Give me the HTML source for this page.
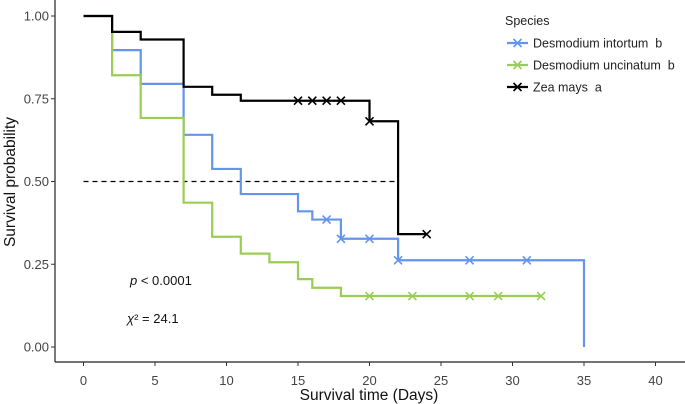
<!DOCTYPE html>
<html><head><meta charset="utf-8"><style>
body{margin:0;background:#fff}
svg{display:block;font-family:"Liberation Sans",Arial,sans-serif}
text{white-space:pre}
</style></head><body>
<svg id="chart" width="685" height="404">
<g id="axes"></g><g id="marks"></g>
<g>
<text x="505" y="25" font-size="12.5" fill="#222">Species</text>
<g id="legend-entries"></g>
</g>
<text x="130" y="285" font-size="13" fill="#111"><tspan font-style="italic">p</tspan> &lt; 0.0001</text>
<text x="127" y="323" font-size="13" fill="#111"><tspan font-style="italic">χ</tspan>² = 24.1</text>
<text x="369" y="400" font-size="15.5" text-anchor="middle" fill="#111">Survival time (Days)</text>
<text transform="translate(15,182) rotate(-90)" font-size="15.5" text-anchor="middle" fill="#111">Survival probability</text>
</svg>
<script>
const xTicks=[0,5,10,15,20,25,30,35,40];
const yTicks=[0,0.25,0.5,0.75,1];
const yTickLabels=["0.00","0.25","0.50","0.75","1.00"];
const seriesNames=["Desmodium intortum  b","Desmodium uncinatum  b","Zea mays  a"];
const seriesColors=["#6495ed","#9acd53","#000000"];
const intortumTimes=[0,2,4,7,9,11,15,16,18,22,35];
const intortumSurv=[1,0.897,0.795,0.641,0.538,0.462,0.41,0.385,0.327,0.262,0];
const intortumCensor=[17,18,20,22,27,31];
const uncinatumTimes=[0,2,4,7,9,11,13,15,16,18,32];
const uncinatumSurv=[1,0.821,0.692,0.436,0.333,0.282,0.256,0.205,0.179,0.154,0.154];
const uncinatumCensor=[20,23,27,29,32];
const zeaTimes=[0,2,4,7,9,11,20,22,24];
const zeaSurv=[1,0.952,0.929,0.786,0.762,0.744,0.682,0.341,0.341];
const zeaCensor=[15,16,17,18,20,24];
const medianLine=[0,22];

const NS="http://www.w3.org/2000/svg";
const X=t=>83.5+t*14.3;
const Y=s=>347-s*331;
function mk(tag,attrs,parent){const e=document.createElementNS(NS,tag);for(const k in attrs)e.setAttribute(k,attrs[k]);parent.appendChild(e);return e;}
const axes=document.getElementById('axes'),marks=document.getElementById('marks');
let a=mk('line',{x1:55,y1:0,x2:55,y2:362,stroke:'#222','stroke-width':1.2},axes);


a=mk('line',{x1:55,y1:362,x2:685,y2:362,stroke:'#222','stroke-width':1.2},axes);


xTicks.forEach(t=>{
 mk('line',{x1:X(t),y1:362,x2:X(t),y2:366,stroke:'#333'},axes);
 const tx=mk('text',{x:X(t),y:385,'font-size':13,'text-anchor':'middle',fill:'#444'},axes);
 tx.textContent=t;
 
 
});
yTicks.forEach((v,i)=>{
 mk('line',{x1:51,y1:Y(v),x2:55,y2:Y(v),stroke:'#333'},axes);
 const tx=mk('text',{x:49,y:Y(v)+4.5,'font-size':13,'text-anchor':'end',fill:'#444'},axes);
 tx.textContent=yTickLabels[i];
 
 
});
const dl=mk('line',{x1:X(medianLine[0]),y1:Y(0.5),x2:X(medianLine[1]),y2:Y(0.5),stroke:'#000','stroke-dasharray':'5,4','stroke-width':1.2},marks);


function step(times,surv,cens,color,name){
 let d='M'+X(times[0])+','+Y(surv[0]);
 for(let i=1;i<times.length;i++){d+=' H'+X(times[i])+' V'+Y(surv[i]);}
 const p=mk('path',{d:d,fill:'none',stroke:color,'stroke-width':2.2},marks);
 
 
 cens.forEach(c=>{
  let s=surv[0];for(let i=0;i<times.length;i++){if(times[i]<=c)s=surv[i];}
  const cx=X(c),cy=Y(s);
  const m=mk('path',{d:`M${cx-4},${cy-4}L${cx+4},${cy+4}M${cx-4},${cy+4}L${cx+4},${cy-4}`,stroke:color,'stroke-width':1.6},marks);
  
  
 });
}
step(intortumTimes,intortumSurv,intortumCensor,seriesColors[0],'intortum');
step(uncinatumTimes,uncinatumSurv,uncinatumCensor,seriesColors[1],'uncinatum');
step(zeaTimes,zeaSurv,zeaCensor,seriesColors[2],'zea-mays');
const le=document.getElementById('legend-entries');
seriesNames.forEach((n,i)=>{
 const y=43+i*22;
 const g=mk('g',{},le);
 
 
 mk('line',{x1:507,y1:y,x2:528,y2:y,stroke:seriesColors[i],'stroke-width':2.2},g);
 mk('path',{d:`M${513.5},${y-4}L${521.5},${y+4}M${513.5},${y+4}L${521.5},${y-4}`,stroke:seriesColors[i],'stroke-width':1.6},g);
 const t=mk('text',{x:533,y:y+4.5,'font-size':12.5,fill:'#222'},g);
 t.textContent=n;
});
</script>
</body></html>
